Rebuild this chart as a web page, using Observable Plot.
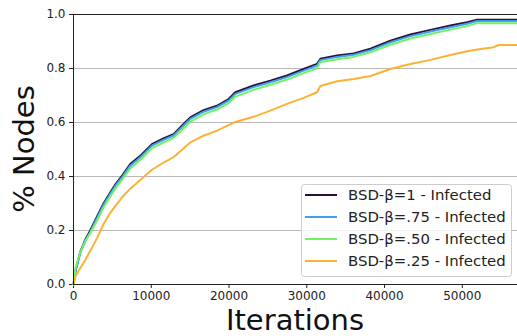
<!DOCTYPE html>
<html>
<head>
<meta charset="utf-8">
<script src="https://cdn.jsdelivr.net/npm/d3@7"></script>
<script src="https://cdn.jsdelivr.net/npm/@observablehq/plot@0.6"></script>
<style>
  html, body { margin: 0; padding: 0; background: #fff; }
  #chart svg { display: block; }
</style>
</head>
<body>
<div id="chart"></div>
<script>
// Infection spread over iterations, four BSD-β settings
const iterations = [0, 250, 860, 1500, 2150, 3000, 3860, 4600, 5370, 6300, 7300, 8700, 10090, 11500,
  12870, 14000, 15020, 16730, 18450, 19950, 20810, 23170, 25320, 27460, 29600, 31320, 31750,
  33900, 36040, 38190, 40760, 43330, 45910, 48480, 50630, 51920, 54050, 54700, 57100];

const beta100 = [0, 0.05, 0.12, 0.165, 0.20, 0.25, 0.30, 0.335, 0.37, 0.405, 0.446, 0.48, 0.52, 0.54,
  0.557, 0.59, 0.619, 0.646, 0.662, 0.687, 0.712, 0.737, 0.755, 0.774, 0.798, 0.817, 0.836,
  0.848, 0.856, 0.873, 0.903, 0.926, 0.943, 0.959, 0.971, 0.981, 0.981, 0.981, 0.981];

const beta075 = [0, 0.05, 0.115, 0.16, 0.195, 0.245, 0.295, 0.33, 0.365, 0.40, 0.44, 0.474, 0.514, 0.535,
  0.552, 0.584, 0.613, 0.64, 0.657, 0.681, 0.706, 0.731, 0.749, 0.768, 0.792, 0.811, 0.831,
  0.843, 0.851, 0.868, 0.897, 0.92, 0.937, 0.953, 0.966, 0.976, 0.976, 0.976, 0.976];

const beta050 = [0, 0.06, 0.12, 0.16, 0.19, 0.235, 0.285, 0.32, 0.355, 0.39, 0.43, 0.465, 0.505, 0.525,
  0.543, 0.574, 0.603, 0.63, 0.648, 0.672, 0.696, 0.721, 0.74, 0.759, 0.783, 0.801, 0.823,
  0.834, 0.843, 0.86, 0.888, 0.911, 0.928, 0.944, 0.957, 0.968, 0.968, 0.968, 0.968];

const beta025 = [0, 0.03, 0.06, 0.09, 0.124, 0.17, 0.223, 0.26, 0.29, 0.325, 0.355, 0.39, 0.425, 0.45,
  0.472, 0.50, 0.526, 0.551, 0.570, 0.590, 0.602, 0.621, 0.644, 0.669, 0.691, 0.712, 0.735,
  0.753, 0.761, 0.772, 0.798, 0.817, 0.832, 0.850, 0.864, 0.870, 0.879, 0.887, 0.887];

const seriesNames = ["BSD-β=1 - Infected", "BSD-β=.75 - Infected", "BSD-β=.50 - Infected", "BSD-β=.25 - Infected"];
const seriesColors = ["#2c0f3b", "#3aa2ee", "#74f066", "#fbb232"];
const seriesValues = [beta100, beta075, beta050, beta025];

const xTicks = [0, 10000, 20000, 30000, 40000, 50000];
const yTicks = [0, 0.2, 0.4, 0.6, 0.8, 1.0];

const rows = seriesValues.flatMap((vals, s) =>
  vals.map((v, i) => ({ series: seriesNames[s], iter: iterations[i], value: v })));

const W = 517, H = 336;
const M = { left: 73, right: 0, top: 14, bottom: 52 };

const plot = Plot.plot({
  width: W,
  height: H,
  marginLeft: M.left,
  marginRight: M.right,
  marginTop: M.top,
  marginBottom: M.bottom,
  style: { fontFamily: "DejaVu Sans, sans-serif", fontSize: "12px", color: "#222", background: "#fff", overflow: "visible" },
  x: { domain: [0, 57100], label: null },
  y: { domain: [0, 1], label: null },
  color: { domain: seriesNames, range: seriesColors },
  marks: [
    Plot.ruleY(yTicks.slice(1, -1), { stroke: "#b8b8b8", strokeWidth: 1 }),
    Plot.axisX({ ticks: xTicks, tickFormat: d => String(d), tickSize: 4, tickPadding: 3, stroke: "#222", label: null }),
    Plot.axisY({ ticks: yTicks, tickFormat: d3.format(".1f"), tickSize: 4, tickPadding: 4, stroke: "#222", label: null }),
    Plot.lineY(rows, { x: "iter", y: "value", z: "series", stroke: "series", strokeWidth: 2, strokeLinejoin: "miter" }),
    Plot.ruleX([0], { stroke: "#222", strokeWidth: 1 }),
    Plot.ruleY([0, 1], { stroke: "#222", strokeWidth: 1 })
  ]
});

document.getElementById("chart").appendChild(plot);

// Axis titles and legend drawn into the same SVG
const svg = d3.select(plot);
const cx = M.left + (W - M.left - M.right) / 2;
const cy = M.top + (H - M.top - M.bottom) / 2;

svg.append("text")
  .attr("x", cx).attr("y", 330)
  .attr("text-anchor", "middle")
  .attr("font-family", "DejaVu Sans, sans-serif")
  .attr("font-size", 29)
  .attr("fill", "#111")
  .text("Iterations");

svg.append("text")
  .attr("transform", `translate(34,${cy}) rotate(-90)`)
  .attr("text-anchor", "middle")
  .attr("font-family", "DejaVu Sans, sans-serif")
  .attr("font-size", 29)
  .attr("fill", "#111")
  .text("% Nodes");

const legend = svg.append("g").attr("text-anchor", "start");
legend.append("rect")
  .attr("x", 301.5).attr("y", 184.5)
  .attr("width", 210).attr("height", 92)
  .attr("rx", 3)
  .style("fill", "rgba(255,255,255,0.8)")
  .style("stroke", "#cccccc")
  .style("stroke-width", "1px");

seriesNames.forEach((name, i) => {
  const y = 195 + i * 22;
  legend.append("line")
    .attr("x1", 305).attr("x2", 337)
    .attr("y1", y).attr("y2", y)
    .style("stroke", seriesColors[i])
    .style("stroke-width", "2px");
  legend.append("text")
    .attr("x", 348).attr("y", y)
    .attr("dy", "0.36em")
    .attr("text-anchor", "start")
    .attr("font-family", "DejaVu Sans, sans-serif")
    .attr("font-size", 14.9)
    .attr("fill", "#222")
    .text(name);
});
</script>
</body>
</html>
